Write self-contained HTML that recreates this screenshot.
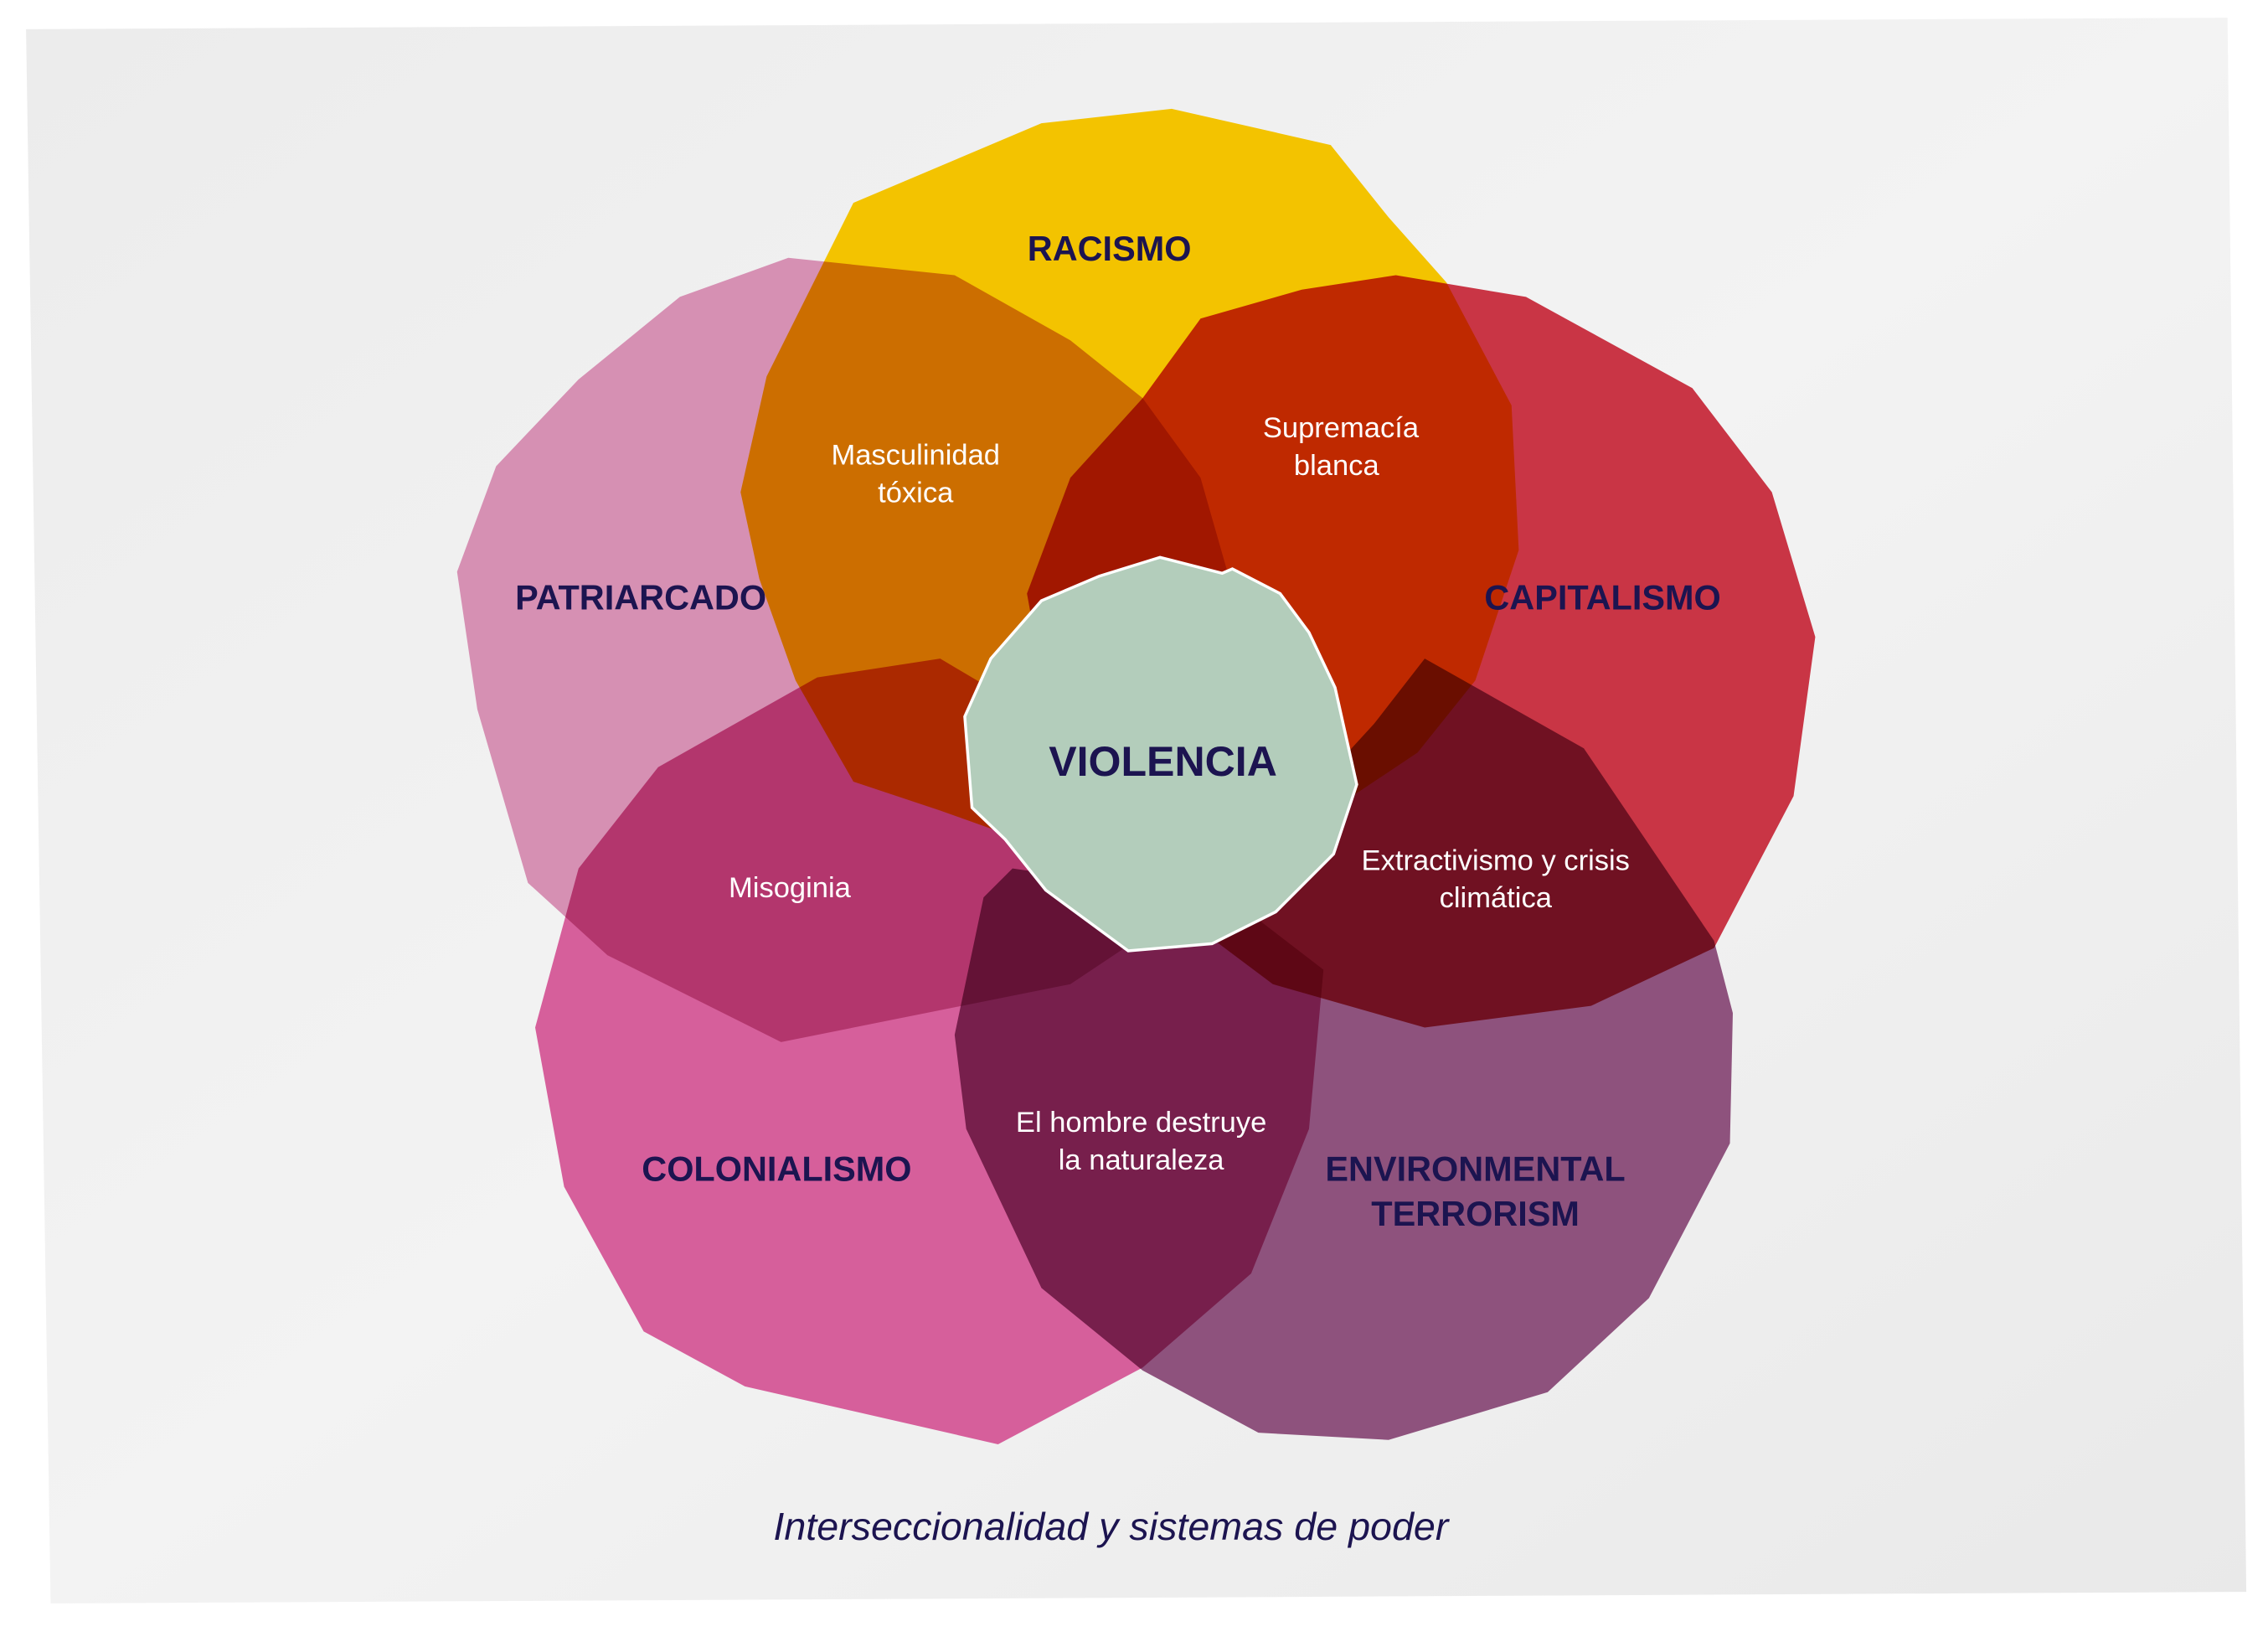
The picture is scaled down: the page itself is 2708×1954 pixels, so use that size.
<!DOCTYPE html>
<html><head><meta charset="utf-8"><style>
html,body{margin:0;padding:0;background:#fff;}
svg{display:block}
</style></head><body>
<svg width="2708" height="1954" viewBox="0 0 1568 1131" xmlns="http://www.w3.org/2000/svg">
<defs>
<linearGradient id="pg" x1="0" y1="0" x2="1" y2="1">
<stop offset="0" stop-color="#ececec"/><stop offset="0.5" stop-color="#f3f3f3"/><stop offset="1" stop-color="#e9e9e9"/>
</linearGradient>
</defs>
<rect width="1568" height="1131" fill="#fff"/>
<polygon points="18,20 1540,12 1553,1100 35,1108" fill="url(#pg)"/>
<g style="isolation:isolate">
<polygon style="mix-blend-mode:multiply" fill="#d690b3" points="545,178 660,190 740,235 790,275 830,330 850,400 820,500 800,640 740,680 540,720 420,660 365,610 330,490 316,395 343,322 400,262 470,205"/>
<polygon style="mix-blend-mode:multiply" fill="#f3c300" points="590,140 720,85 810,75 920,100 960,150 1000,195 1045,280 1050,380 1020,470 980,520 920,560 850,590 790,600 720,585 650,560 590,540 550,470 525,400 512,340 530,260 560,200"/>
<polygon style="mix-blend-mode:multiply" fill="#c93545" points="830,220 900,200 965,190 1055,205 1170,268 1225,340 1255,440 1240,550 1185,655 1100,695 985,710 880,680 800,620 730,520 710,410 740,330 790,275"/>
<polygon style="mix-blend-mode:multiply" fill="#d65f9b" points="455,530 565,468 650,455 760,520 850,620 915,670 905,780 865,880 790,945 690,998 515,958 445,920 390,820 370,710 400,600"/>
<polygon style="mix-blend-mode:multiply" fill="#8e527d" points="700,600 840,620 950,500 985,455 1095,517 1185,650 1198,700 1196,790 1140,897 1070,962 960,995 870,990 790,947 720,890 668,780 660,715 680,620"/>
</g>
<polygon fill="#b3cdbb" stroke="#fff" stroke-width="2" points="802,385 845,396 852,393 885,410 905,437 923,475 938,542 922,590 882,630 838,652 780,657 723,615 695,580 672,558 667,495 685,455 720,415 760,398"/>
<g font-family="'Liberation Sans',sans-serif" font-weight="bold" fill="#1c1450" font-size="24" text-anchor="middle">
<text x="767" y="180">RACISMO</text>
<text x="443" y="421">PATRIARCADO</text>
<text x="1108" y="421">CAPITALISMO</text>
<text x="537" y="816">COLONIALISMO</text>
<text x="1020" y="816">ENVIRONMENTAL</text>
<text x="1020" y="847">TERRORISM</text>
<text x="804" y="536" font-size="29">VIOLENCIA</text>
</g>
<g font-family="'Liberation Sans',sans-serif" fill="#fff" font-size="20" text-anchor="middle">
<text x="633" y="321">Masculinidad</text><text x="633" y="347">tóxica</text>
<text x="927" y="302">Supremacía</text><text x="924" y="328">blanca</text>
<text x="546" y="620">Misoginia</text>
<text x="1034" y="601">Extractivismo y crisis</text><text x="1034" y="627">climática</text>
<text x="789" y="782">El hombre destruye</text><text x="789" y="808">la naturaleza</text>
</g>
<text x="768" y="1064" font-family="'Liberation Sans',sans-serif" font-style="italic" font-size="27" fill="#1c1450" text-anchor="middle">Interseccionalidad y sistemas de poder</text>
</svg>
</body></html>
